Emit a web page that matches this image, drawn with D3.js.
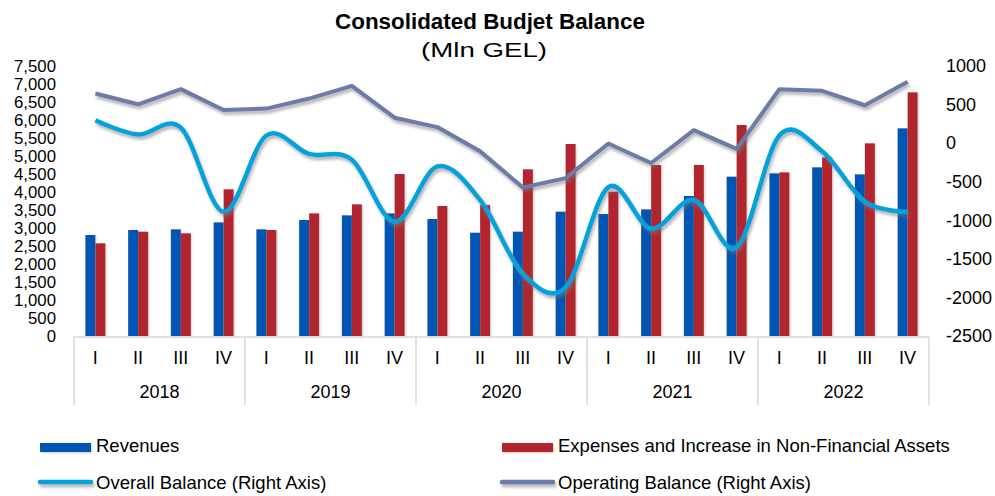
<!DOCTYPE html>
<html>
<head>
<meta charset="utf-8">
<script src="https://cdn.jsdelivr.net/npm/d3@7"></script>
<style>
  body { margin: 0; background: #fff; }
  text { font-family: "Liberation Sans", Arial, sans-serif; fill: #000; }
</style>
</head>
<body>
<div id="chart"></div>
<script>
// data
var years = ["2018", "2019", "2020", "2021", "2022"];
var quarters = ["I", "II", "III", "IV"];
var revenues = [2805, 2944, 2963, 3157, 2963, 3222, 3352, 3407, 3250, 2870, 2898, 3454, 3389, 3518, 3889, 4426, 4519, 4685, 4491, 5769];
var expenses = [2575, 2898, 2852, 4074, 2944, 3407, 3657, 4500, 3611, 3639, 4630, 5333, 4009, 4750, 4750, 5861, 4546, 4963, 5352, 6769];
var overall = [295, 112, 200, -889, 99, -140, -214, -1019, -301, -736, -1693, -1868, -571, -1106, -736, -1346, 100, -105, -758, -889];
var operating = [644, 504, 700, 430, 448, 578, 743, 330, 208, -106, -575, -453, -5, -257, 168, -75, 700, 678, 491, 795];
var leftTicks = d3.range(0, 7501, 500);
var rightTicks = d3.range(-2500, 1001, 500);

var width = 995, height = 496;
var margin = {"left": 74, "right": 66, "top": 66, "bottom": 160};

var colors = {
  rev: "#0457b2",
  exp: "#b1262e",
  overall: "#02a3dc",
  operating: "#6c7ca8",
  grid: "#d9d9d9"
};

var svg = d3.select("#chart").append("svg")
  .attr("width", width).attr("height", height);

var defs = svg.append("defs");
defs.append("filter").attr("id", "shadow")
  .attr("filterUnits", "userSpaceOnUse")
  .attr("x", 0).attr("y", 0).attr("width", width).attr("height", height)
  .append("feDropShadow")
  .attr("dx", 1.5).attr("dy", 3).attr("stdDeviation", 1.8)
  .attr("flood-color", "#777").attr("flood-opacity", 0.55);
defs.append("filter").attr("id", "barshadow")
  .attr("filterUnits", "userSpaceOnUse")
  .attr("x", 0).attr("y", 0).attr("width", width).attr("height", height)
  .append("feDropShadow")
  .attr("dx", 1).attr("dy", 1).attr("stdDeviation", 1)
  .attr("flood-color", "#999").attr("flood-opacity", 0.5);

// keys for each quarter
var keys = [];
years.forEach(function(y) {
  quarters.forEach(function(q) { keys.push(y + "-" + q); });
});

var x = d3.scaleBand()
  .domain(keys)
  .range([margin.left, width - margin.right])
  .padding(0);

var yL = d3.scaleLinear().domain([0, 7500]).range([height - margin.bottom, margin.top]);
var yR = d3.scaleLinear().domain([-2500, 1000]).range([height - margin.bottom, margin.top]);

var base = yL(0);
var barW = 10;

// bars
var bars = svg.append("g").attr("filter", "url(#barshadow)");
bars.selectAll(".rev").data(revenues).enter().append("rect")
  .attr("x", function(d, i) { return x(keys[i]) + x.bandwidth() / 2 - barW; })
  .attr("y", function(d) { return yL(d); })
  .attr("width", barW)
  .attr("height", function(d) { return base - yL(d); })
  .attr("fill", colors.rev);
bars.selectAll(".exp").data(expenses).enter().append("rect")
  .attr("x", function(d, i) { return x(keys[i]) + x.bandwidth() / 2; })
  .attr("y", function(d) { return yL(d); })
  .attr("width", barW)
  .attr("height", function(d) { return base - yL(d); })
  .attr("fill", colors.exp);

// lines
var cx = function(d, i) { return x(keys[i]) + x.bandwidth() / 2; };
var opLine = d3.line().x(cx).y(function(d) { return yR(d); });
var ovLine = d3.line().x(cx).y(function(d) { return yR(d); }).curve(d3.curveCardinal.tension(0));

svg.append("path").datum(operating)
  .attr("d", opLine)
  .attr("fill", "none")
  .attr("stroke", colors.operating)
  .attr("stroke-width", 4)
  .attr("stroke-linejoin", "round")
  .attr("filter", "url(#shadow)");
svg.append("path").datum(overall)
  .attr("d", ovLine)
  .attr("fill", "none")
  .attr("stroke", colors.overall)
  .attr("stroke-width", 4.5)
  .attr("filter", "url(#shadow)");

// x axis (two levels)
var xa = svg.append("g");
xa.append("line")
  .attr("x1", margin.left).attr("x2", width - margin.right)
  .attr("y1", base + 1).attr("y2", base + 1)
  .attr("stroke", colors.grid).attr("stroke-width", 1.5);
years.forEach(function(y, yi) {
  var x0 = x(y + "-I");
  xa.append("line")
    .attr("x1", x0).attr("x2", x0)
    .attr("y1", base + 1).attr("y2", 405)
    .attr("stroke", colors.grid).attr("stroke-width", 1.5);
  xa.append("text")
    .attr("x", x0 + x.bandwidth() * 2).attr("y", 398)
    .attr("text-anchor", "middle")
    .style("font-size", "18px")
    .text(y);
});
xa.append("line")
  .attr("x1", width - margin.right).attr("x2", width - margin.right)
  .attr("y1", base + 1).attr("y2", 405)
  .attr("stroke", colors.grid).attr("stroke-width", 1.5);
xa.selectAll(".q").data(keys).enter().append("text")
  .attr("x", function(d) { return x(d) + x.bandwidth() / 2; })
  .attr("y", 364)
  .attr("text-anchor", "middle")
  .style("font-size", "18px")
  .text(function(d) { return d.split("-")[1]; });

// left axis labels
svg.append("g").selectAll("text").data(leftTicks).enter().append("text")
  .attr("x", 56)
  .attr("y", function(d) { return yL(d); })
  .attr("dy", "0.35em")
  .attr("text-anchor", "end")
  .style("font-size", "16.8px")
  .text(function(d) { return d3.format(",")(d); });

// right axis labels
svg.append("g").selectAll("text").data(rightTicks).enter().append("text")
  .attr("x", 946)
  .attr("y", function(d) { return yR(d); })
  .attr("dy", "0.35em")
  .style("font-size", "18px")
  .text(function(d) { return d; });

// title
svg.append("text")
  .attr("x", 490).attr("y", 29)
  .attr("text-anchor", "middle")
  .style("font-size", "22.4px").style("font-weight", "bold")
  .text("Consolidated Budjet Balance");
svg.append("text")
  .attr("x", 484).attr("y", 57)
  .attr("text-anchor", "middle")
  .attr("textLength", 126)
  .attr("lengthAdjust", "spacingAndGlyphs")
  .style("font-size", "20px")
  .text("(Mln GEL)");

// legend
var legend = [
  {"name": "Revenues", "type": "bar", "color": colors.rev, "x": 40, "y": 446},
  {"name": "Expenses and Increase in Non-Financial Assets", "type": "bar", "color": colors.exp, "x": 502, "y": 446},
  {"name": "Overall Balance (Right Axis)", "type": "line", "color": colors.overall, "x": 40, "y": 483},
  {"name": "Operating Balance (Right Axis)", "type": "line", "color": colors.operating, "x": 502, "y": 483}
];
var lg = svg.append("g").selectAll("g").data(legend).enter().append("g");
lg.each(function(d) {
  var g = d3.select(this);
  if (d.type == "bar") {
    g.append("rect").attr("x", d.x).attr("y", d.y - 3).attr("width", 51).attr("height", 9)
      .attr("fill", d.color).attr("filter", "url(#barshadow)");
  } else {
    g.append("line").attr("x1", d.x).attr("x2", d.x + 51).attr("y1", d.y - 1).attr("y2", d.y - 1)
      .attr("stroke", d.color).attr("stroke-width", 4.5).attr("stroke-linecap", "round")
      .attr("filter", "url(#shadow)");
  }
  g.append("text").attr("x", d.x + 56).attr("y", d.y).attr("dy", "0.35em")
    .style("font-size", "18.5px").text(d.name);
});
</script>
</body>
</html>
